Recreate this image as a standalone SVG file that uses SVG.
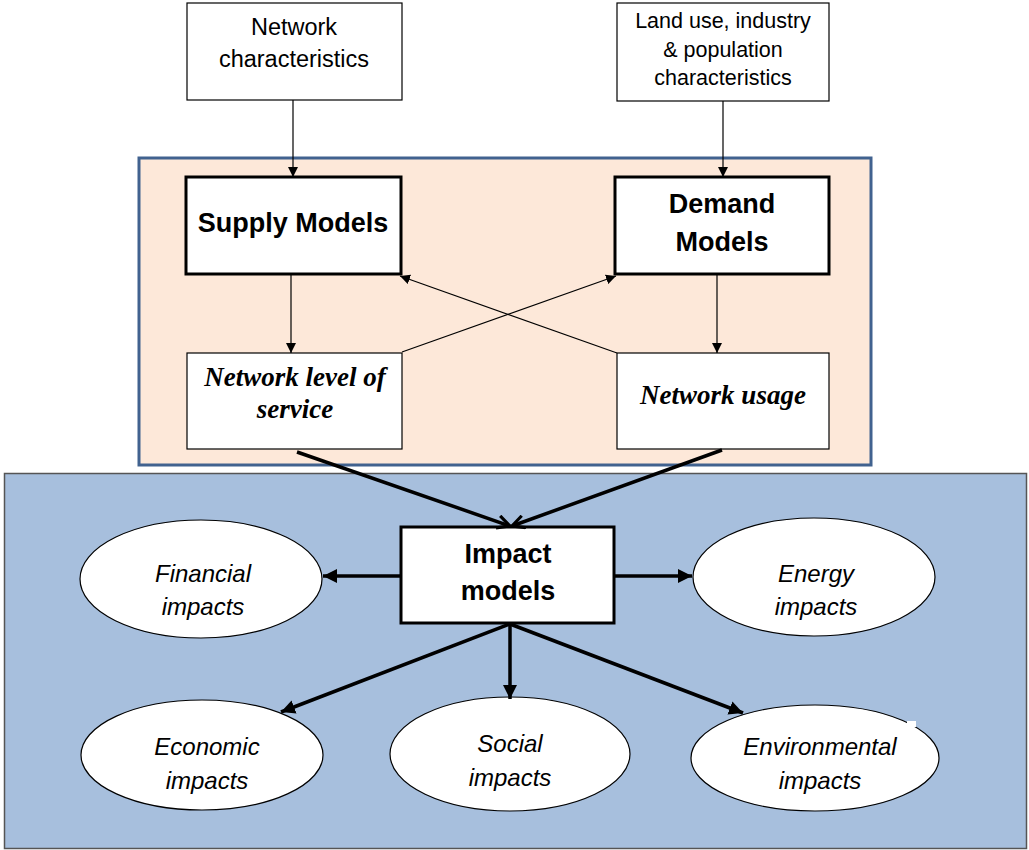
<svg xmlns="http://www.w3.org/2000/svg" width="1029" height="850" viewBox="0 0 1029 850">
<style>
.box{fill:#fff;stroke:#000;stroke-width:1.2}
.bbox{fill:#fff;stroke:#000;stroke-width:3}
.ell{fill:#fff;stroke:#000;stroke-width:1.2}
.t{font-family:"Liberation Sans",Arial,sans-serif;font-size:23.5px;text-anchor:middle;fill:#000}
.ts{font-family:"Liberation Sans",Arial,sans-serif;font-size:21.5px;text-anchor:middle;fill:#000}
.tb{font-family:"Liberation Sans",Arial,sans-serif;font-size:27px;font-weight:bold;text-anchor:middle;fill:#000}
.tt{font-family:"Liberation Serif","Times New Roman",serif;font-size:27px;font-weight:bold;font-style:italic;text-anchor:middle;fill:#000}
.ti{font-family:"Liberation Sans",Arial,sans-serif;font-size:24px;font-style:italic;text-anchor:middle;fill:#000}
.thin{stroke:#000;stroke-width:1.2;fill:none;marker-end:url(#ah)}
.thick{stroke:#000;stroke-width:3.5;fill:none;marker-end:url(#ahb)}
.thickv{stroke:#000;stroke-width:3.5;fill:none;marker-end:url(#ahv)}
</style>
<defs>
<marker id="ah" viewBox="0 0 10 10" refX="10" refY="5" markerWidth="10" markerHeight="10" markerUnits="userSpaceOnUse" orient="auto"><path d="M0,0 L10,5 L0,10 z" fill="#000"/></marker>
<marker id="ahb" viewBox="0 0 10 10" refX="10" refY="5" markerWidth="4" markerHeight="4" orient="auto"><path d="M0,0 L10,5 L0,10 z" fill="#000"/></marker>
<marker id="ahv" viewBox="0 0 10 10" refX="9" refY="5" markerWidth="4.5" markerHeight="4.5" orient="auto"><path d="M1,1 L9,5 L1,9" fill="none" stroke="#000" stroke-width="2"/></marker>
</defs>
<rect width="1029" height="850" fill="#fff"/>
<g id="peach-container"><rect x="139" y="158" width="732" height="307" fill="#fde8d9" stroke="#41628f" stroke-width="3"/></g>
<g id="blue-container"><rect x="4.5" y="473.5" width="1022" height="375" fill="#a7bfdd" stroke="#555" stroke-width="1.5"/></g>
<g id="network-characteristics"><rect class="box" x="187" y="3" width="215" height="97"/><text class="t" x="294" y="35">Network</text><text class="t" x="294" y="67">characteristics</text></g>
<g id="land-use"><rect class="box" x="617" y="3" width="212" height="98"/><text class="ts" x="723" y="28">Land use, industry</text><text class="ts" x="723" y="57">&amp; population</text><text class="ts" x="723" y="85">characteristics</text></g>
<g id="supply-models"><rect class="bbox" x="186" y="177" width="215" height="97"/><text class="tb" x="293" y="232" font-size="26.5">Supply Models</text></g>
<g id="demand-models"><rect class="bbox" x="615" y="177" width="214" height="97"/><text class="tb" x="722" y="213">Demand</text><text class="tb" x="722" y="251">Models</text></g>
<g id="network-los"><rect class="box" x="187" y="353" width="215" height="96"/><text class="tt" x="295" y="386">Network level of</text><text class="tt" x="295" y="418">service</text></g>
<g id="network-usage"><rect class="box" x="617" y="353" width="212" height="96"/><text class="tt" x="723" y="404">Network usage</text></g>
<g id="impact-models"><rect class="bbox" x="401" y="527" width="213" height="96"/><text class="tb" x="508" y="563">Impact</text><text class="tb" x="508" y="600">models</text></g>
<g id="financial"><ellipse class="ell" cx="201" cy="579" rx="121" ry="59"/><text class="ti" x="203" y="582">Financial</text><text class="ti" x="203" y="615">impacts</text></g>
<g id="energy"><ellipse class="ell" cx="814" cy="577" rx="121" ry="59"/><text class="ti" x="816" y="582">Energy</text><text class="ti" x="816" y="615">impacts</text></g>
<g id="economic"><ellipse class="ell" cx="202" cy="755" rx="121" ry="55"/><text class="ti" x="207" y="755">Economic</text><text class="ti" x="207" y="789">impacts</text></g>
<g id="social"><ellipse class="ell" cx="510" cy="754" rx="120" ry="57"/><text class="ti" x="510" y="752">Social</text><text class="ti" x="510" y="786">impacts</text></g>
<g id="environmental"><ellipse class="ell" cx="815" cy="758" rx="124" ry="53"/><text class="ti" x="820" y="755">Environmental</text><text class="ti" x="820" y="789">impacts</text><rect x="907" y="721" width="9" height="6" fill="#fff"/></g>
<g id="connectors">
<line class="thin" x1="293" y1="100" x2="293" y2="177"/>
<line class="thin" x1="723" y1="101" x2="723" y2="177"/>
<line class="thin" x1="291" y1="274" x2="291" y2="353"/>
<line class="thin" x1="717" y1="274" x2="717" y2="353"/>
<line class="thin" x1="402" y1="352" x2="616" y2="276"/>
<line class="thin" x1="617" y1="353" x2="400" y2="276"/>
<line class="thickv" x1="297" y1="452" x2="510" y2="526"/>
<line class="thickv" x1="722" y1="450" x2="512" y2="526"/>
<line class="thick" x1="401" y1="576" x2="323" y2="576"/>
<line class="thick" x1="614" y1="576" x2="692" y2="576"/>
<line class="thick" x1="510" y1="624" x2="281" y2="712"/>
<line class="thick" x1="510" y1="624" x2="510" y2="699"/>
<line class="thick" x1="510" y1="624" x2="743" y2="713"/>
</g>
</svg>
